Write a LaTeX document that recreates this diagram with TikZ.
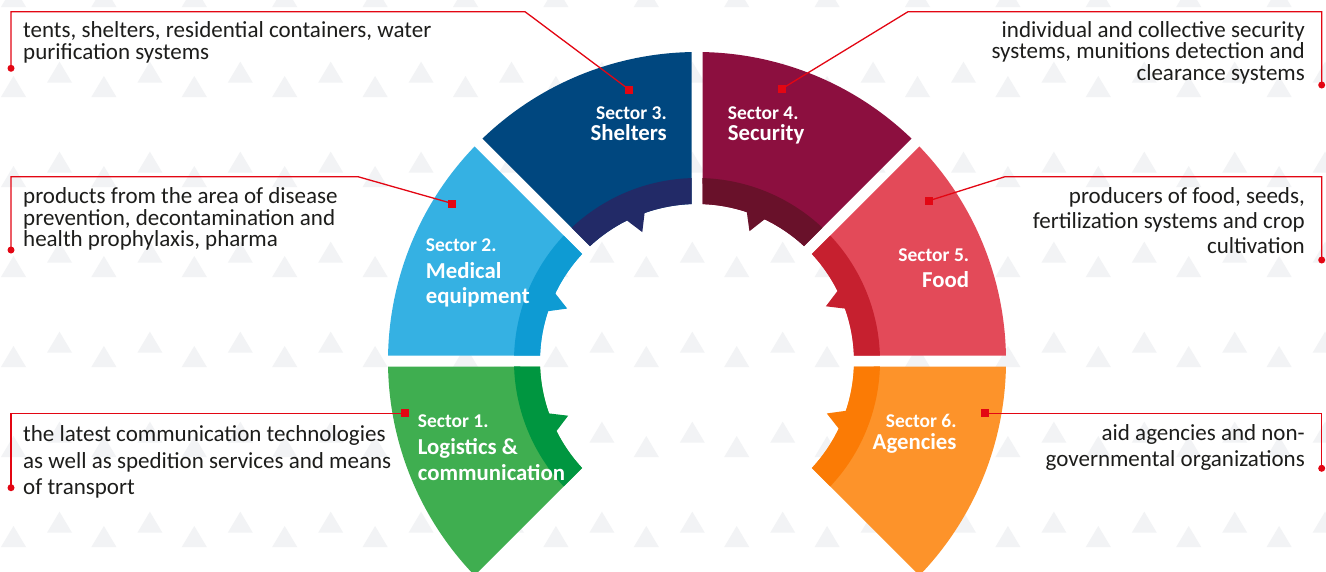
\documentclass[tikz,border=0pt]{standalone}
\usepackage{fontspec}
\setmainfont{Carlito}
\definecolor{redc}{HTML}{E30613}
\definecolor{bgtri}{HTML}{F2F3F5}
\definecolor{txt}{HTML}{1D1D1B}
\definecolor{s1l}{HTML}{3FAE50}\definecolor{s1d}{HTML}{009640}
\definecolor{s2l}{HTML}{35B1E3}\definecolor{s2d}{HTML}{0E9BD3}
\definecolor{s3l}{HTML}{00477F}\definecolor{s3d}{HTML}{222A67}
\definecolor{s4l}{HTML}{8C0F3F}\definecolor{s4d}{HTML}{69112A}
\definecolor{s5l}{HTML}{E34A59}\definecolor{s5d}{HTML}{C6202F}
\definecolor{s6l}{HTML}{FD932A}\definecolor{s6d}{HTML}{FB7B05}
\tikzset{
  desc/.style={font=\fontsize{23}{22}\selectfont, text=txt, inner sep=0pt},
  secn/.style={font=\bfseries\fontsize{19.5}{20}\selectfont, text=white, inner sep=0pt},
  sect/.style={font=\bfseries\fontsize{22.8}{24}\selectfont, text=white, inner sep=0pt},
  conn/.style={draw=redc, line width=1.3pt},
  sq/.style={fill=redc, rectangle, minimum size=8pt, inner sep=0pt},
  endpt/.style={fill=redc, circle, minimum size=7pt, inner sep=0pt},
}
\begin{document}
\begin{tikzpicture}[x=1pt,y=1pt]
\useasboundingbox (0,0) rectangle (1326,-571);
\clip (0,0) rectangle (1326,-571);
\fill[white] (0,0) rectangle (1326,-571);
% background triangles
\foreach \j in {0,...,6}{
  \foreach \k in {0,...,14}{
    \fill[bgtri] ({59.5+90.4*\k-12.5},{-(82.7+90*\j-90)}) -- ++(25,0) -- ++(-12.5,21) -- cycle;
    \fill[bgtri] ({13.5+90.4*\k-12.5},{-(7+90*\j)}) -- ++(25,0) -- ++(-12.5,21) -- cycle;
  }
}
% sectors
\begin{scope}[shift={(697,-361)}]
\foreach \a/\lc/\dc in {180/s1l/s1d, 135/s2l/s2d, 90/s3l/s3d, 45/s4l/s4d, 0/s5l/s5d, -45/s6l/s6d}{
  \fill[\lc] ({\a+2.01}:157) -- ({\a+1.02}:309)
     arc[start angle={\a+1.02}, end angle={\a+43.98}, radius=309]
     -- ({\a+42.99}:157)
     arc[start angle={\a+42.99}, end angle={\a+2.01}, radius=157] -- cycle;
  \fill[\dc] ({\a+2.01}:157) -- ({\a+1.72}:183)
     arc[start angle={\a+1.72}, end angle={\a+43.28}, radius=183]
     -- ({\a+42.99}:157)
     arc[start angle={\a+42.99}, end angle={\a+26.5}, radius=157]
     -- ({\a+23}:140) -- ({\a+19.5}:157)
     arc[start angle={\a+19.5}, end angle={\a+2.01}, radius=157] -- cycle;
}
\end{scope}
% sector labels
\node[secn, anchor=base west] (l1a) at (417.7,-427.7) {Sector 1.};
\node[sect, anchor=base west] (l1b) at (417.7,-454) {Logistics \&};
\node[sect, anchor=base west] (l1c) at (417.7,-480) {communication};
\node[secn, anchor=base west] (l2a) at (425.7,-251.7) {Sector 2.};
\node[sect, anchor=base west] (l2b) at (425.7,-278.3) {Medical};
\node[sect, anchor=base west] (l2c) at (425.7,-303.3) {equipment};
\node[secn, anchor=base east] (l3a) at (667,-119.3) {Sector 3.};
\node[sect, anchor=base east] (l3b) at (667,-140) {Shelters};
\node[secn, anchor=base west] (l4a) at (727.7,-119.3) {Sector 4.};
\node[sect, anchor=base west] (l4b) at (727.7,-140) {Security};
\node[secn, anchor=base east] (l5a) at (969.3,-261.7) {Sector 5.};
\node[sect, anchor=base east] (l5b) at (969.3,-287.3) {Food};
\node[secn, anchor=base east] (l6a) at (956.7,-427.7) {Sector 6.};
\node[sect, anchor=base east] (l6b) at (956.7,-449) {Agencies};
% descriptions
\node[desc, anchor=base west] (t3a) at (23,-37.3) {tents, shelters, residential containers, water};
\node[desc, anchor=base west] (t3b) at (23,-59.3) {purification systems};
\node[desc, anchor=base west] (t2a) at (23,-203.3) {products from the area of disease};
\node[desc, anchor=base west] (t2b) at (23,-225) {prevention, decontamination and};
\node[desc, anchor=base west] (t2c) at (23,-246.5) {health prophylaxis, pharma};
\node[desc, anchor=base west] (t1a) at (23,-441.7) {the latest communication technologies};
\node[desc, anchor=base west] (t1b) at (23,-468) {as well as spedition services and means};
\node[desc, anchor=base west] (t1c) at (23,-494.3) {of transport};
\node[desc, anchor=base east] (t4a) at (1305,-37.3) {individual and collective security};
\node[desc, anchor=base east] (t4b) at (1305,-58.6) {systems, munitions detection and};
\node[desc, anchor=base east] (t4c) at (1305,-80) {clearance systems};
\node[desc, anchor=base east] (t5a) at (1305,-203.3) {producers of food, seeds,};
\node[desc, anchor=base east] (t5b) at (1305,-228.3) {fertilization systems and crop};
\node[desc, anchor=base east] (t5c) at (1305,-253.3) {cultivation};
\node[desc, anchor=base east] (t6a) at (1305,-440.7) {aid agencies and non-};
\node[desc, anchor=base east] (t6b) at (1305,-466.7) {governmental organizations};
% connectors
\node[sq] (q1) at (405,-413.3) {};
\node[sq] (q2) at (452.3,-203.5) {};
\node[sq] (q3) at (629,-89.5) {};
\node[sq] (q4) at (781.5,-89) {};
\node[sq] (q5) at (929,-200.7) {};
\node[sq] (q6) at (985,-413.3) {};
\node[endpt] (d1) at (11,-487.7) {};
\node[endpt] (d2) at (11,-250) {};
\node[endpt] (d3) at (11,-68.3) {};
\node[endpt] (d4) at (1321.7,-85) {};
\node[endpt] (d5) at (1321.7,-260) {};
\node[endpt] (d6) at (1321.7,-468.3) {};
\coordinate (b2) at (358,-176.7);
\coordinate (b3) at (525,-11.7);
\coordinate (b4) at (908,-11.7);
\coordinate (b5) at (1005,-176.7);
\draw[conn] (d1.center) |- (q1);
\draw[conn] (d2.center) |- (b2) -- (q2.center);
\draw[conn] (d3.center) |- (b3) -- (q3.center);
\draw[conn] (d4.center) |- (b4) -- (q4.center);
\draw[conn] (d5.center) |- (b5) -- (q5.center);
\draw[conn] (d6.center) |- (q6);
\end{tikzpicture}
\end{document}
